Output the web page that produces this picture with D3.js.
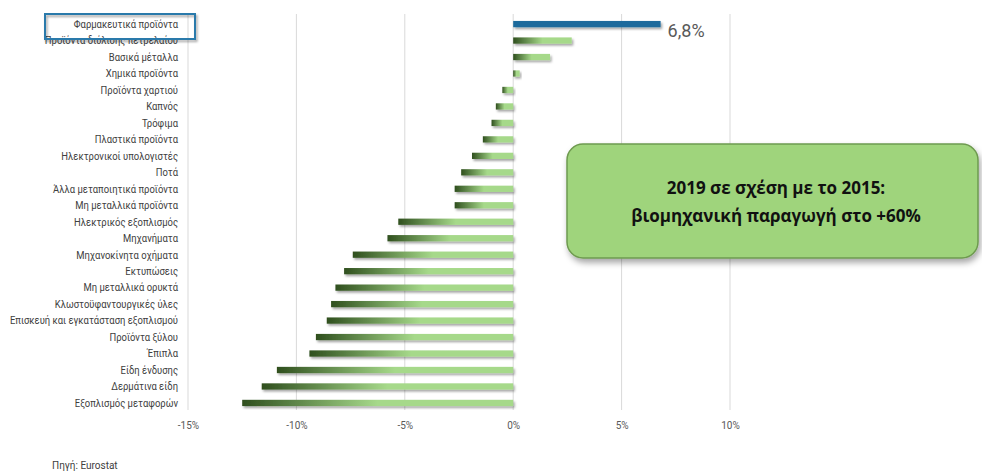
<!DOCTYPE html>
<html>
<head>
<meta charset="utf-8">
<script src="https://cdn.jsdelivr.net/npm/d3@7"></script>
<style>
  body { margin: 0; background: #fff; }
  svg { display: block; }
  .cat { font-family: Roboto, "DejaVu Sans Condensed", sans-serif; font-size: 11px; fill: #404040; }
  .tick text { font-family: Roboto, "DejaVu Sans Condensed", sans-serif; font-size: 10px; fill: #595959; }
</style>
</head>
<body>
<svg id="chart" width="982" height="475"></svg>
<script>
// sectors, top to bottom
let categories = [
  "Φαρμακευτικά προϊόντα", "Προϊόντα διύλισης πετρελαίου", "Βασικά μέταλλα", "Χημικά προϊόντα",
  "Προϊόντα χαρτιού", "Καπνός", "Τρόφιμα", "Πλαστικά προϊόντα", "Ηλεκτρονικοί υπολογιστές", "Ποτά",
  "Άλλα μεταποιητικά προϊόντα", "Μη μεταλλικά προϊόντα", "Ηλεκτρικός εξοπλισμός", "Μηχανήματα",
  "Μηχανοκίνητα οχήματα", "Εκτυπώσεις", "Μη μεταλλικά ορυκτά", "Κλωστοϋφαντουργικές ύλες",
  "Επισκευή και εγκατάσταση εξοπλισμού", "Προϊόντα ξύλου", "Έπιπλα", "Είδη ένδυσης",
  "Δερμάτινα είδη", "Εξοπλισμός μεταφορών"
];
// change, %
let values = [6.8, 2.7, 1.7, 0.3, -0.5, -0.8, -1.0, -1.4, -1.9, -2.4, -2.7, -2.7, -5.3, -5.8,
  -7.4, -7.8, -8.2, -8.4, -8.6, -9.1, -9.4, -10.9, -11.6, -12.5];
let ticks = [-15, -10, -5, 0, 5, 10];
let highlight = "Φαρμακευτικά προϊόντα";
let boxLines = ["2019 σε σχέση με το 2015:", "βιομηχανική παραγωγή στο +60%"];

let svg = d3.select('#chart');
let data = categories.map((c, i) => ({cat: c, value: values[i]}));

let x = d3.scaleLinear().domain([-15, 10]).range([188, 730]);
let y = d3.scaleBand().domain(categories).range([16, 411]).paddingInner(0.62).paddingOuter(0.3);

let defs = svg.append('defs');
let sh = defs.append('filter').attr('id', 'shadow').attr('x', '-10%').attr('y', '-50%').attr('width', '130%').attr('height', '250%');
sh.append('feDropShadow').attr('dx', 1.5).attr('dy', 2).attr('stdDeviation', 1.2).attr('flood-color', '#000').attr('flood-opacity', 0.35);

let boxSh = defs.append('filter').attr('id', 'boxshadow').attr('x', '-10%').attr('y', '-10%').attr('width', '130%').attr('height', '140%');
boxSh.append('feDropShadow').attr('dx', 2).attr('dy', 4).attr('stdDeviation', 3).attr('flood-color', '#000').attr('flood-opacity', 0.35);

// dark end on the left, light towards the right
let grad = defs.append('linearGradient').attr('id', 'gbar');
grad.append('stop').attr('offset', '0%').attr('stop-color', '#2f4f1e');
grad.append('stop').attr('offset', '50%').attr('stop-color', '#a6d98a');
grad.append('stop').attr('offset', '100%').attr('stop-color', '#a6d98a');

// axis + grid
let axis = d3.axisBottom(x).tickValues(ticks).tickSize(0).tickPadding(12).tickFormat(d => d + '%');
let gAxis = svg.append('g').attr('transform', 'translate(0,410)').call(axis);
gAxis.select('.domain').remove();

svg.append('g').selectAll('line').data(ticks).join('line')
   .attr('x1', d => x(d)).attr('x2', d => x(d))
   .attr('y1', 14).attr('y2', 410)
   .attr('stroke', '#d9d9d9').attr('stroke-width', 1);

// bars
svg.append('g').selectAll('rect').data(data).join('rect')
   .attr('x', d => x(Math.min(0, d.value)))
   .attr('y', d => y(d.cat))
   .attr('width', d => Math.abs(x(d.value) - x(0)))
   .attr('height', y.bandwidth())
   .attr('fill', d => d.cat == highlight ? '#1c6b9c' : 'url(#gbar)')
   .attr('filter', 'url(#shadow)');

// category labels (squeezed a bit, like the narrow original font)
svg.append('g').attr('transform', 'translate(178,0) scale(0.86,1)')
   .selectAll('text').data(data).join('text')
   .attr('class', 'cat')
   .attr('x', 0)
   .attr('y', d => y(d.cat) + y.bandwidth() / 2)
   .attr('dy', '0.35em')
   .attr('text-anchor', 'end')
   .text(d => d.cat);

// highlight line and frame
let hy = y(highlight) + y.bandwidth() + 3;
svg.append('line').attr('x1', 92).attr('x2', 940).attr('y1', hy).attr('y2', hy)
   .attr('stroke', '#a6a6a6').attr('stroke-width', 2).attr('filter', 'url(#shadow)');
svg.append('rect').attr('x', 45).attr('y', 14).attr('width', 150).attr('height', 25)
   .attr('fill', 'none').attr('stroke', '#2a7aab').attr('stroke-width', 2).attr('filter', 'url(#shadow)');

let hv = values[categories.indexOf(highlight)];
svg.append('text').attr('x', x(hv) + 7).attr('y', hy + 7)
   .attr('font-family', 'Roboto, "DejaVu Sans Condensed", sans-serif')
   .attr('font-size', 18).attr('fill', '#595959')
   .text(String(hv).replace('.', ',') + '%');

// annotation box
svg.append('rect').attr('x', 567).attr('y', 144).attr('width', 411).attr('height', 114).attr('rx', 16)
   .attr('fill', '#9fd47c').attr('stroke', '#6e9a4f').attr('stroke-width', 1.5).attr('filter', 'url(#boxshadow)');
svg.append('g').selectAll('text').data(boxLines).join('text')
   .attr('x', 776).attr('y', (d, i) => 194 + i * 28)
   .attr('text-anchor', 'middle')
   .attr('font-family', '"Open Sans", sans-serif').attr('font-weight', 'bold')
   .attr('font-size', 17).attr('fill', '#111')
   .text(d => d);

svg.append('text').attr('x', 52).attr('y', 469)
   .attr('font-family', 'Roboto, "DejaVu Sans Condensed", sans-serif')
   .attr('font-size', 10).attr('fill', '#404040')
   .text('Πηγή: Eurostat');
</script>
</body>
</html>
